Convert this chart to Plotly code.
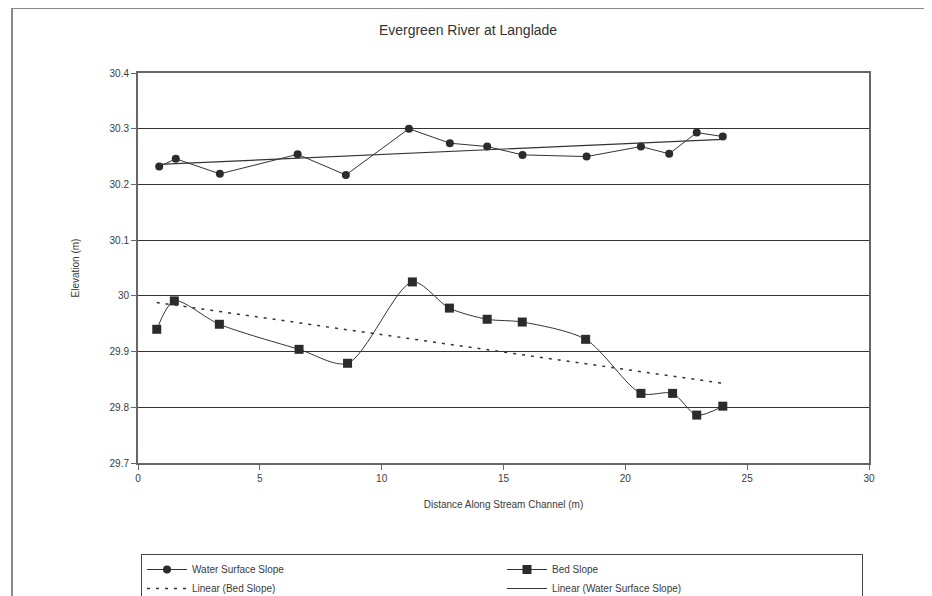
import plotly.graph_objects as go

# Data
water_x = [0.87, 1.55, 3.36, 6.55, 8.53, 11.12, 12.8, 14.33, 15.78, 18.41, 20.64, 21.8, 22.93, 24.0]
water_y = [30.232, 30.246, 30.219, 30.254, 30.217, 30.300, 30.274, 30.268, 30.253, 30.250, 30.268, 30.255, 30.293, 30.286]

bed_x = [0.77, 1.49, 3.34, 6.61, 8.6, 11.26, 12.78, 14.33, 15.77, 18.37, 20.64, 21.94, 22.93, 24.0]
bed_y = [29.940, 29.991, 29.949, 29.904, 29.879, 30.025, 29.978, 29.958, 29.953, 29.922, 29.825, 29.825, 29.786, 29.802]

# Linear trendline end values
bed_trend_x = [0.77, 24.0]
bed_trend_y = [29.988, 29.843]
water_trend_x = [0.87, 24.0]
water_trend_y = [30.236, 30.281]

x_ticks = [0, 5, 10, 15, 20, 25, 30]
y_ticks = [29.7, 29.8, 29.9, 30.0, 30.1, 30.2, 30.3, 30.4]
y_tick_labels = ["29.7", "29.8", "29.9", "30", "30.1", "30.2", "30.3", "30.4"]

# The page places the figure 8px from the top-left corner (body margin)
OFF = 8
PAGE_W, PAGE_H = 932, 596
W, H = PAGE_W - OFF, PAGE_H - OFF
FONT = "Liberation Sans, Arial, sans-serif"
TXT = "#3a3a3a"

fig = go.Figure()
fig.add_trace(go.Scatter(
    x=water_x, y=water_y, name="Water Surface Slope", mode="lines+markers",
    line=dict(color="#333333", width=1),
    marker=dict(symbol="circle", size=8, color="#2b2b2b"),
))
fig.add_trace(go.Scatter(
    x=bed_x, y=bed_y, name="Bed Slope", mode="lines+markers",
    line=dict(color="#333333", width=1, shape="spline", smoothing=0.8),
    marker=dict(symbol="square", size=9, color="#2b2b2b"),
))
fig.add_trace(go.Scatter(
    x=bed_trend_x, y=bed_trend_y, name="Linear (Bed Slope)", mode="lines",
    line=dict(color="#333333", width=1.5, dash="3px,6px"),
))
fig.add_trace(go.Scatter(
    x=water_trend_x, y=water_trend_y, name="Linear (Water Surface Slope)", mode="lines",
    line=dict(color="#333333", width=1.2),
))

# plot area in page pixels: left 138, right 869, top 73, bottom 463
L = 138 - OFF
R = W - (869 - OFF)
T = 73 - OFF
B = H - (463 - OFF)
pw = W - L - R
ph = H - T - B

def px_x(p):
    return (p - OFF - L) / pw

def px_y(p):
    return (H - B - (p - OFF)) / ph

# outer chart frame
fig.add_shape(type="rect", xref="paper", yref="paper",
              x0=px_x(12), x1=px_x(PAGE_W + 10),
              y0=px_y(PAGE_H + 10), y1=px_y(8),
              line=dict(color="#8a8a8a", width=2), layer="below")

fig.update_layout(
    width=W, height=H,
    margin=dict(l=L, r=R, t=T, b=B, autoexpand=False),
    paper_bgcolor="white", plot_bgcolor="white",
    font=dict(family=FONT, size=10, color=TXT),
    title=dict(text="Evergreen River at Langlade", x=px_x(468), xref="paper",
               xanchor="center", y=1 - (30 - OFF) / H, yanchor="middle",
               font=dict(family=FONT, size=14, color="#333333")),
    showlegend=True,
    legend=dict(orientation="h", xref="paper", yref="paper",
                x=px_x(141), y=px_y(554), xanchor="left", yanchor="top",
                entrywidth=305, bordercolor="#444444", borderwidth=1,
                font=dict(family=FONT, size=10, color=TXT), traceorder="normal",
                tracegroupgap=0, itemwidth=40),
)
fig.update_xaxes(
    range=[0, 30], tickvals=x_ticks, ticktext=[str(v) for v in x_ticks],
    showgrid=False, zeroline=False, showline=True, linecolor="#666666", linewidth=2,
    mirror=True, ticks="outside", ticklen=5, tickcolor="#666666",
    title=dict(text="Distance Along Stream Channel (m)", standoff=18,
               font=dict(family=FONT, size=10, color=TXT)),
)
fig.update_yaxes(
    range=[29.7, 30.4], tickvals=y_ticks, ticktext=y_tick_labels,
    showgrid=True, gridcolor="#333333", gridwidth=1,
    zeroline=False, showline=True, linecolor="#666666", linewidth=2,
    mirror=True, ticks="outside", ticklen=5, tickcolor="#666666",
    title=dict(text="Elevation (m)", standoff=28,
               font=dict(family=FONT, size=10, color=TXT)),
)

fig.write_html("out.html")
